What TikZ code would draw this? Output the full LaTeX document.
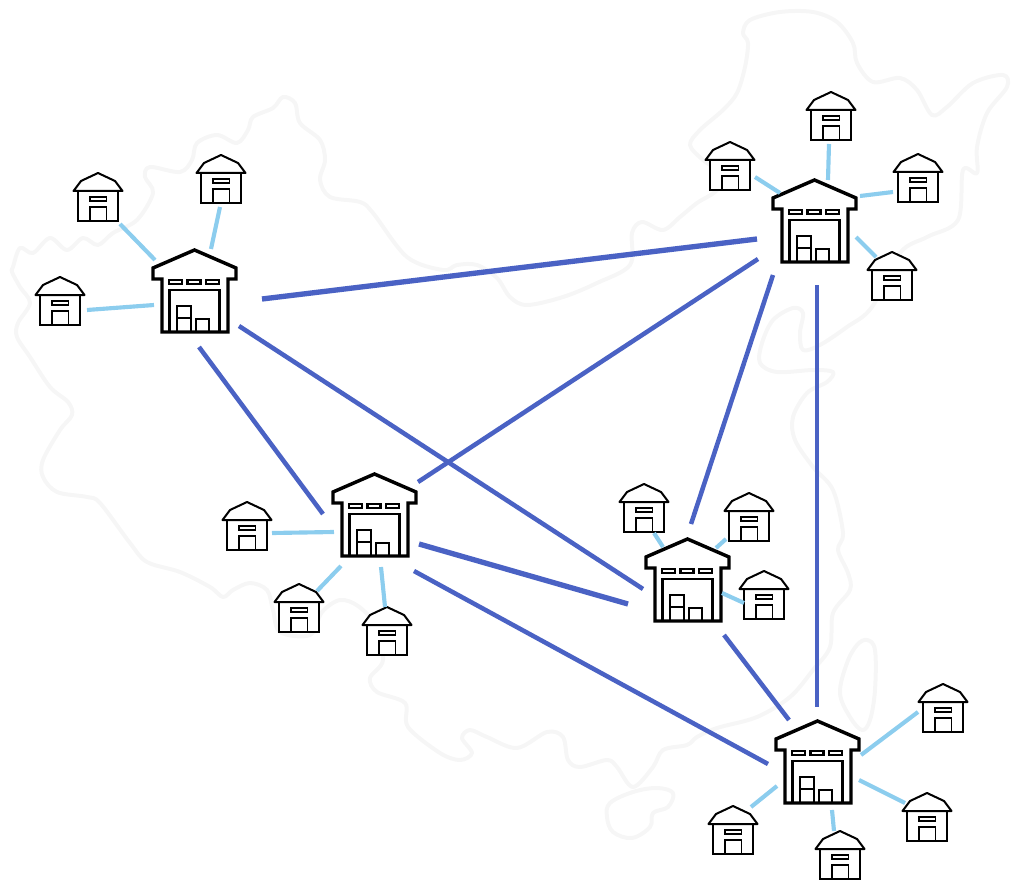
\documentclass[tikz,border=0pt]{standalone}
\definecolor{trunk}{HTML}{4A62C4}
\definecolor{spoke}{HTML}{8CCDEE}
\definecolor{mapline}{HTML}{F6F6F6}
\tikzset{
  mapoutline/.style={draw=mapline,line width=3pt,line join=round},
  trunkline/.style={draw=trunk,line width=3.4pt},
  trunkthick/.style={draw=trunk,line width=4pt},
  spokeline/.style={draw=spoke,line width=3.1pt},
  anchorbox/.style={inner sep=0pt,minimum width=63pt,minimum height=63pt,draw=none},
  smallbox/.style={inner sep=0pt,minimum width=36pt,minimum height=36pt,draw=none},
  warehouse/.pic={
    \node[anchorbox] (-n) at (0,0) {};
    \draw[line width=2.6pt,line join=miter,fill=white]
      (0.5,-42) -- (42,-24) -- (42,-13) -- (34,-13) -- (34,40) -- (-32,40) -- (-32,-13)
      -- (-41,-13) -- (-41,-24) -- cycle;
    \draw[line width=1.6pt] (-25,-12) rectangle (-12,-8) (-6.5,-12) rectangle (6.5,-8) (12,-12) rectangle (25,-8);
    \draw[line width=2.1pt] (-24.5,40) -- (-24.5,-2) -- (25.5,-2) -- (25.5,40);
    \draw[line width=1.9pt] (-17,40) -- (-17,14) -- (-3,14) -- (-3,40) (-17,26) -- (-3,26);
    \draw[line width=1.9pt] (2,40) -- (2,27) -- (15,27) -- (15,40);
  },
  shed/.pic={
    \node[smallbox] (-n) at (0,0) {};
    \draw[line width=1.5pt,fill=white] (-20,-6) -- (20,-6) -- (20,24) -- (-20,24) -- cycle;
    \draw[line width=1.5pt,line join=round,fill=white]
      (0,-24) -- (17,-16) -- (24.5,-6) -- (-24.5,-6) -- (-17,-16) -- cycle;
    \draw[line width=1.4pt] (-8,0) rectangle (8.5,4);
    \draw[line width=1.4pt] (-8,24) -- (-8,10) -- (8.5,10) -- (8.5,24);
  },
}
\begin{document}
\begin{tikzpicture}[x=0.75pt,y=-0.75pt]
\useasboundingbox (0,0) rectangle (1025,888);
% pale map outline
\draw[mapoutline] plot[smooth cycle,tension=0.55] coordinates {
 (13,267)(20,248)(33,253)(50,238)(67,250)(83,238)(98,245)(113,233)(137,220)(153,193)(145,177)(150,167)
 (180,172)(192,160)(197,143)(217,135)(237,143)(248,130)(253,117)(273,108)(283,97)(295,103)(300,123)
 (320,140)(325,160)(320,180)(330,197)(360,202)(373,213)(407,257)(443,270)(457,265)(477,265)(497,278)
 (510,297)(527,305)(563,297)(597,283)(630,265)(632,233)(642,222)(663,230)(680,217)(697,203)(717,190)
 (720,173)(703,160)(690,145)(700,130)(723,110)(737,93)(745,67)(748,43)(743,33)(750,20)(780,12)(813,12)
 (837,22)(853,43)(857,63)(873,82)(900,78)(917,90)(932,115)(947,107)(973,83)(1003,75)(1007,87)(987,113)
 (977,147)(977,173)(963,170)(958,220)(927,237)(900,253)(872,307)(847,327)(820,345)(803,350)(800,333)
 (803,313)(793,308)(773,320)(762,343)(760,363)(777,372)(813,370)(833,372)(827,382)(807,393)(793,417)
 (795,440)(813,467)(833,490)(843,533)(838,550)(848,573)(850,590)(833,613)(830,647)(813,670)(790,697)
 (757,717)(717,728)(697,737)(687,745)(663,750)(653,767)(633,787)(617,767)(607,760)(580,767)(568,760)
 (563,737)(547,732)(517,748)(487,737)(470,730)(462,738)(472,753)(460,760)(440,753)(408,727)(405,703)
 (377,692)(370,678)(383,660)(375,625)(358,606)(340,600)(322,612)(310,635)(280,632)(273,610)(267,590)
 (250,583)(233,590)(223,597)(210,587)(180,572)(147,562)(130,543)(100,503)(87,497)(57,492)(43,477)
 (43,460)(60,430)(72,415)(68,402)(50,387)(30,357)(17,337)(18,323)(30,303)(20,287)(12,272)};
\draw[mapoutline] plot[smooth cycle,tension=0.6] coordinates {
 (607,817)(610,803)(633,792)(657,788)(673,793)(668,807)(653,813)(650,827)(632,838)(613,832)};
\draw[mapoutline] plot[smooth cycle,tension=0.6] coordinates {
 (867,640)(875,650)(875,690)(870,720)(862,730)(850,717)(840,693)(847,663)(857,645)};
% warehouses and sheds
\pic (w1) at (194,292) {warehouse};
\pic (w2) at (814,222) {warehouse};
\pic (w3) at (374,516) {warehouse};
\pic (w4) at (687,581) {warehouse};
\pic (w5) at (817,763) {warehouse};
\pic (s11) at (60,301) {shed};
\pic (s12) at (98,197) {shed};
\pic (s13) at (221,179) {shed};
\pic (s21) at (831,116) {shed};
\pic (s22) at (730,166) {shed};
\pic (s23) at (918,178) {shed};
\pic (s24) at (892,276) {shed};
\pic (s31) at (247,526) {shed};
\pic (s32) at (299,608) {shed};
\pic (s33) at (387,631) {shed};
\pic (s41) at (644,508) {shed};
\pic (s42) at (749,517) {shed};
\pic (s43) at (764,595) {shed};
\pic (s51) at (943,708) {shed};
\pic (s52) at (927,817) {shed};
\pic (s53) at (840,855) {shed};
\pic (s54) at (733,830) {shed};
% connector ends
\coordinate (a12) at (262,299); \coordinate (b12) at (757,239);
\coordinate (a14) at (239,326); \coordinate (b14) at (643,589);
\coordinate (a13) at (199,347); \coordinate (b13) at (323,514);
\coordinate (a23) at (758,259); \coordinate (b23) at (418,482);
\coordinate (a24) at (773,275); \coordinate (b24) at (691,524);
\coordinate (a25) at (817,285); \coordinate (b25) at (817,707);
\coordinate (a34) at (419,544); \coordinate (b34) at (628,604);
\coordinate (a35) at (414,571); \coordinate (b35) at (768,764);
\coordinate (a45) at (724,635); \coordinate (b45) at (789,720);
\draw[trunkthick] (a12) -- (b12);
\draw[trunkline] (a14) -- (b14);
\draw[trunkline] (a13) -- (b13);
\draw[trunkline] (a23) -- (b23);
\draw[trunkline] (a24) -- (b24);
\draw[trunkline] (a25) -- (b25);
\draw[trunkthick] (a34) -- (b34);
\draw[trunkline] (a35) -- (b35);
\draw[trunkline] (a45) -- (b45);
% spokes
\coordinate (p11) at (87,310); \coordinate (q11) at (154,305);
\coordinate (p12) at (120,224); \coordinate (q12) at (155,260);
\coordinate (p13) at (220,207); \coordinate (q13) at (211,249);
\coordinate (p21) at (829,144); \coordinate (q21) at (828,180);
\coordinate (p22) at (755,177); \coordinate (q22) at (780,193);
\coordinate (p23) at (893,192); \coordinate (q23) at (860,196);
\coordinate (p24) at (876,257); \coordinate (q24) at (856,237);
\coordinate (p31) at (272,533); \coordinate (q31) at (334,532);
\coordinate (p32) at (317,591); \coordinate (q32) at (341,566);
\coordinate (p33) at (385,607); \coordinate (q33) at (381,567);
\coordinate (p41) at (654,533); \coordinate (q41) at (663,547);
\coordinate (p42) at (726,539); \coordinate (q42) at (716,548);
\coordinate (p43) at (744,603); \coordinate (q43) at (722,593);
\coordinate (p51) at (918,712); \coordinate (q51) at (861,755);
\coordinate (p52) at (905,803); \coordinate (q52) at (859,780);
\coordinate (p53) at (834,831); \coordinate (q53) at (832,810);
\coordinate (p54) at (751,807); \coordinate (q54) at (777,786);
\foreach \n in {11,12,13,21,22,23,24,31,32,33,41,42,43,51,52,53,54}
  \draw[spokeline] (p\n) -- (q\n);
\end{tikzpicture}
\end{document}
